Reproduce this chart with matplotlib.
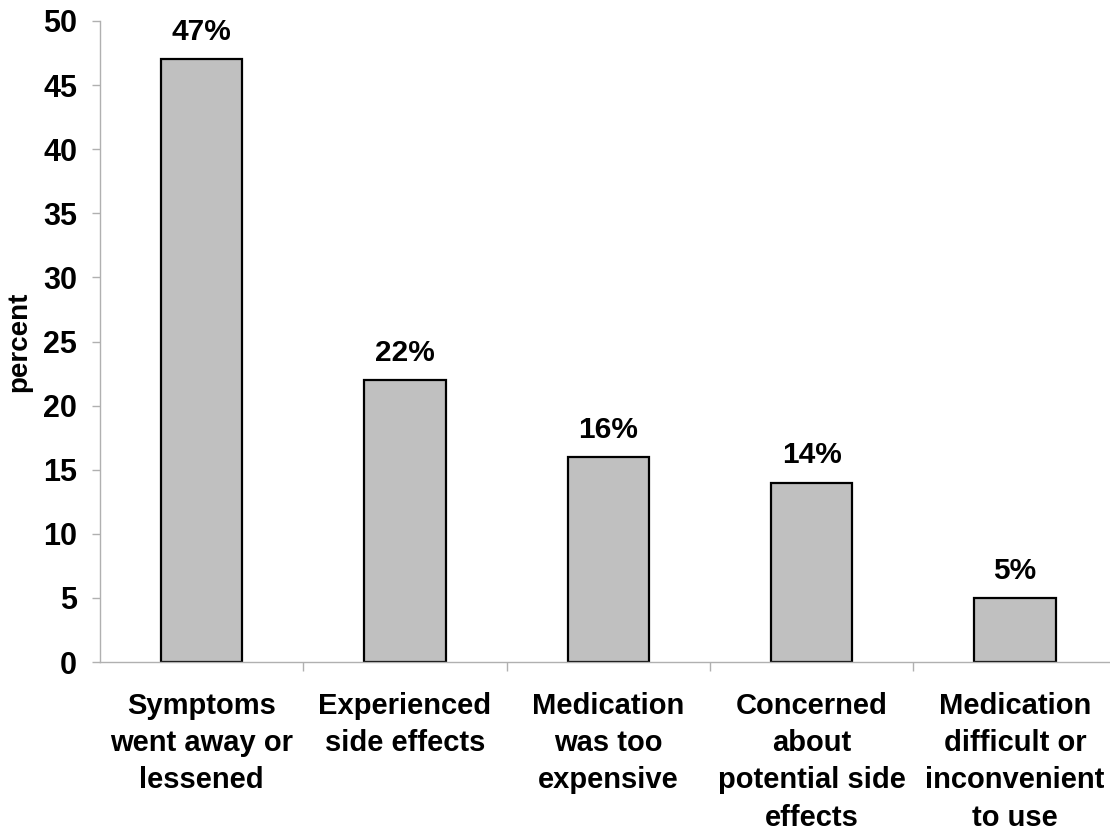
import numpy as np
import matplotlib.pyplot as plt

reasons = ["Symptoms\nwent away or\nlessened",
           "Experienced\nside effects",
           "Medication\nwas too\nexpensive",
           "Concerned\nabout\npotential side\neffects",
           "Medication\ndifficult or\ninconvenient\nto use"]
percent = [47, 22, 16, 14, 5]
yticks = [0, 5, 10, 15, 20, 25, 30, 35, 40, 45, 50]

plt.rcParams['font.family'] = ['Liberation Sans', 'DejaVu Sans']
plt.rcParams['font.weight'] = 'bold'

fig = plt.figure(figsize=(11.1, 8.31), dpi=100)
ax = fig.add_axes([100 / 1110, 169 / 831, 1016.5 / 1110, 641 / 831])

x = np.arange(len(reasons))
bars = ax.bar(x, percent, width=0.4, color='#c0c0c0', edgecolor='black', linewidth=1.6)

for xi, v in zip(x, percent):
    ax.annotate(f"{v}%", (xi, v), xytext=(0, 9.5), textcoords='offset points',
                ha='center', va='bottom', fontsize=21.5, fontweight='bold')

ax.set_xlim(-0.5, len(reasons) - 0.5)
ax.set_ylim(0, 50)
ax.set_yticks(yticks)
ax.set_yticklabels([str(t) for t in yticks], fontsize=22, fontweight='bold')
ax.set_xticks(x)
ax.set_xticklabels(reasons, fontsize=21, fontweight='bold', linespacing=1.42, va='top')
ax.set_xticks(np.arange(len(reasons)) + 0.5, minor=True)
ax.tick_params(axis='x', which='major', length=0, pad=21.5)
ax.tick_params(axis='x', which='minor', length=6.5, color='#b0b0b0', width=1)
ax.tick_params(axis='y', length=6, color='#b0b0b0', width=1, pad=10.5)
ax.set_ylabel("percent", fontsize=20, fontweight='bold', labelpad=8)

for s in ['top', 'right']:
    ax.spines[s].set_visible(False)
for s in ['left', 'bottom']:
    ax.spines[s].set_color('#b0b0b0')
    ax.spines[s].set_linewidth(1)

fig.savefig("out.png", dpi=100)
